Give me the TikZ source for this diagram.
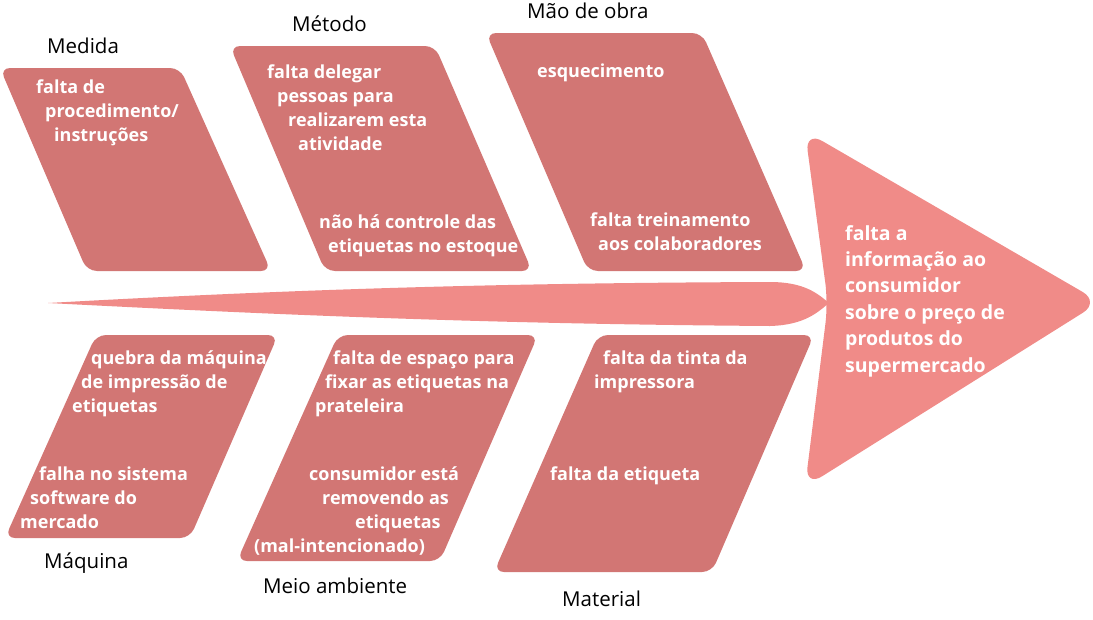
\documentclass[tikz,border=0pt]{standalone}
\usepackage{fontspec}
\setmainfont{Open Sans}
\definecolor{boxred}{HTML}{D27674}
\definecolor{headred}{HTML}{F08B88}

\begin{document}
\begin{tikzpicture}[x=1pt, y=-1pt,
  cause/.style={fill=boxred, rounded corners=10pt},
  txt/.style={text=white, font=\fontsize{18}{24}\selectfont\bfseries, align=left, inner sep=0pt, anchor=base west},
  lbl/.style={font=\fontsize{20.5}{22}\selectfont, anchor=base west, inner sep=0pt}]
  \useasboundingbox (0,0) rectangle (1093,619);
  % spine and head
  \fill[headred] (48,303) .. controls (300,289) and (500,283) .. (770,282)
    .. controls (805,282) and (818,294) .. (829,303)
    .. controls (818,312) and (805,325) .. (770,326)
    .. controls (500,324) and (300,316) .. cycle;
  \fill[headred, rounded corners=20pt] (805,131) -- (1100,302) -- (805,487) -- (828,303) -- cycle;
  % upper bones
  \fill[cause] (0,68) -- (180,68) -- (271,271) -- (87,271) -- cycle;
  \fill[cause] (230,46) -- (435,46) -- (532,271) -- (325,271) -- cycle;
  \fill[cause] (486,33) -- (702,33) -- (806,271) -- (588,271) -- cycle;
  % lower bones
  \fill[cause] (96,335) -- (278,335) -- (190,538) -- (5,538) -- cycle;
  \fill[cause] (338,335) -- (538,335) -- (440,561) -- (237,561) -- cycle;
  \fill[cause] (598,335) -- (814,335) -- (712,572) -- (494,572) -- cycle;

  % categories
  \node[lbl] (medida) at (47,53) {Medida};
  \node[lbl] (metodo) at (292,31) {Método};
  \node[lbl] (maoobra) at (527,18) {Mão de obra};
  \node[lbl] (maquina) at (44,568) {Máquina};
  \node[lbl] (meio) at (263,593) {Meio ambiente};
  \node[lbl] (material) at (562,606) {Material};

  % causes (base = last line)
  \node[txt] (med1) at (36,141) {falta de\\\hspace*{9pt}procedimento/\\\hspace*{18pt}instruções};
  \node[txt] (met1) at (267,150) {falta delegar\\\hspace*{10pt}pessoas para\\\hspace*{21pt}realizarem esta\\\hspace*{31pt}atividade};
  \node[txt] (met2) at (319,252) {não há controle das\\\hspace*{9pt}etiquetas no estoque};
  \node[txt] (mao1) at (537,77) {esquecimento};
  \node[txt] (mao2) at (590,250) {falta treinamento\\\hspace*{8pt}aos colaboradores};
  \node[txt] (maq1) at (72,412) {\hspace*{19pt}quebra da máquina\\\hspace*{9pt}de impressão de\\etiquetas};
  \node[txt] (maq2) at (20,528) {\hspace*{19pt}falha no sistema\\\hspace*{10pt}software do\\mercado};
  \node[txt] (mei1) at (315,412) {\hspace*{18pt}falta de espaço para\\\hspace*{10pt}fixar as etiquetas na\\prateleira};
  \node[txt] (mei2) at (254,552) {\hspace*{55pt}consumidor está\\\hspace*{68pt}removendo as\\\hspace*{101pt}etiquetas\\(mal-intencionado)};
  \node[txt] (mat1) at (594,388) {\hspace*{9pt}falta da tinta da\\impressora};
  \node[txt] (mat2) at (550,480) {falta da etiqueta};

  % effect
  \node[txt, font=\fontsize{19.5}{26.4}\selectfont\bfseries] (efeito) at (845,372)
    {falta a\\informação ao\\consumidor\\sobre o preço de\\produtos do\\supermercado};
\end{tikzpicture}
\end{document}
